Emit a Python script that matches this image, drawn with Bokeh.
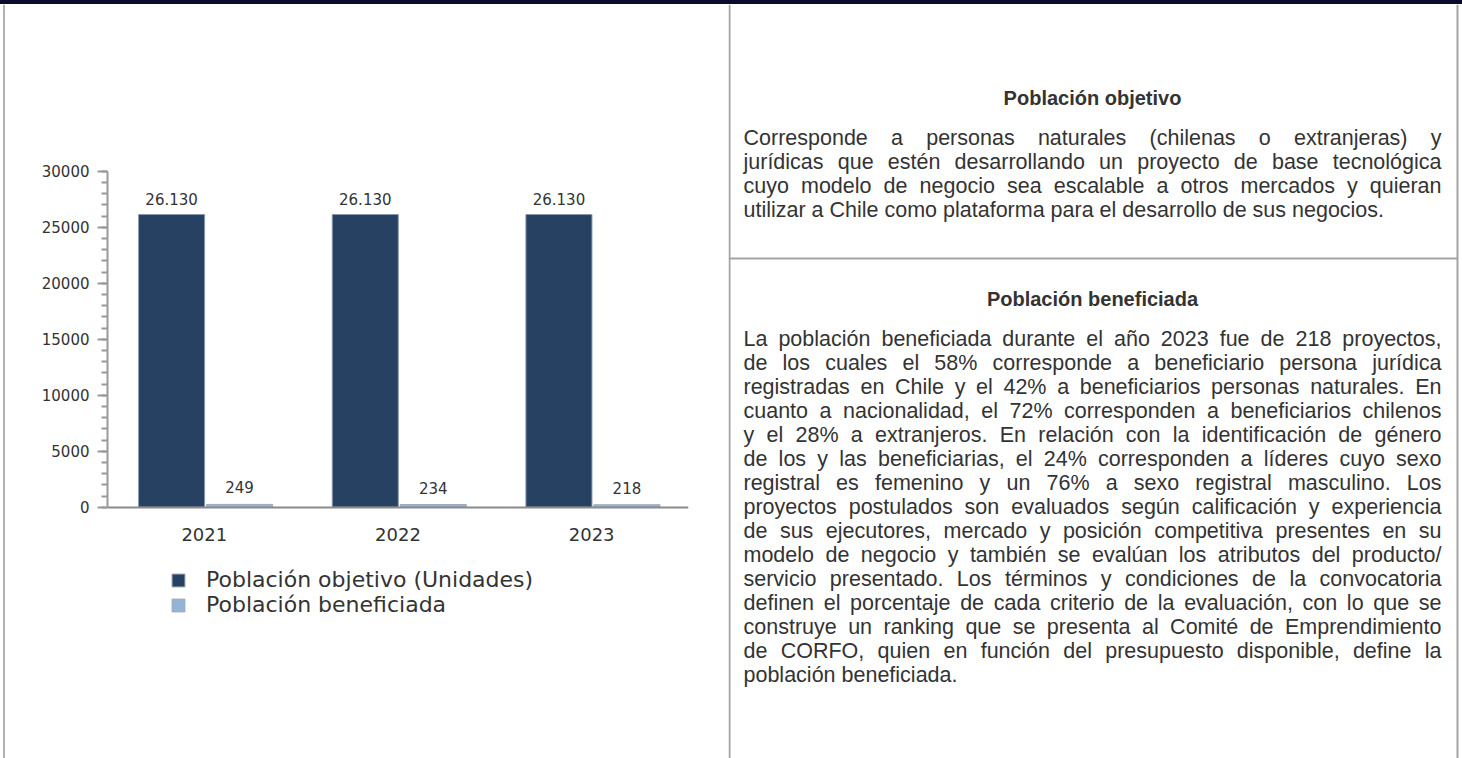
from bokeh.plotting import figure
from bokeh.models import ColumnDataSource, Range1d, FactorRange, SingleIntervalTicker, Plot, Div
from bokeh.transform import dodge
from bokeh.layouts import row, column
from bokeh.core.properties import value
from bokeh.embed import file_html
from bokeh.resources import INLINE

# ---------------- data ----------------
years = ["2021", "2022", "2023"]
poblacion_objetivo = [26130, 26130, 26130]
poblacion_beneficiada = [249, 234, 218]
serie_objetivo = "Población objetivo (Unidades)"
serie_beneficiada = "Población beneficiada"

titulo_1 = "Población objetivo"
parrafo_1 = [
    "Corresponde a personas naturales (chilenas o extranjeras) y",
    "jurídicas que estén desarrollando un proyecto de base tecnológica",
    "cuyo modelo de negocio sea escalable a otros mercados y quieran",
    "utilizar a Chile como plataforma para el desarrollo de sus negocios.",
]
titulo_2 = "Población beneficiada"
parrafo_2 = [
    "La población beneficiada durante el año 2023 fue de 218 proyectos,",
    "de los cuales el 58% corresponde a beneficiario persona jurídica",
    "registradas en Chile y el 42% a beneficiarios personas naturales. En",
    "cuanto a nacionalidad, el 72% corresponden a beneficiarios chilenos",
    "y el 28% a extranjeros. En relación con la identificación de género",
    "de los y las beneficiarias, el 24% corresponden a líderes cuyo sexo",
    "registral es femenino y un 76% a sexo registral masculino. Los",
    "proyectos postulados son evaluados según calificación y experiencia",
    "de sus ejecutores, mercado y posición competitiva presentes en su",
    "modelo de negocio y también se evalúan los atributos del producto/",
    "servicio presentado. Los términos y condiciones de la convocatoria",
    "definen el porcentaje de cada criterio de la evaluación, con lo que se",
    "construye un ranking que se presenta al Comité de Emprendimiento",
    "de CORFO, quien en función del presupuesto disponible, define la",
    "población beneficiada.",
]


def miles(v):
    return f"{v:,}".replace(",", ".")


NOALIGN = {"frame_align": False} if "frame_align" in Plot.properties() else {}

# ---------------- geometry (page pixels) ----------------
PAGE_W, PAGE_H = 1462, 758
BAND_H = 4
ROW_H = PAGE_H - BAND_H          # 754
LB_W = 5                          # page x 0..5
CHART_X1 = 728                    # chart figure page x 5..728
RIGHT_X0 = CHART_X1
FRAME_L, FRAME_R = 107, 688
FRAME_H = 700                     # frame from page y 4 to 704
Y0_PX, YTOP_PX, YTOP_VAL = 506.7, 170.7, 30000

DARK = "#274163"
LIGHT = "#95b3d7"
GRAY = "#a3a3a3"
TXT = "#333333"

# ---------------- top band ----------------
band = Div(text="", width=PAGE_W, height=BAND_H,
           styles={"background-color": "#0b0b2e", "margin": "0", "padding": "0"})

# ---------------- left border ----------------
lborder = figure(width=LB_W, height=ROW_H, x_axis_type=None, y_axis_type=None, title=None,
                 toolbar_location=None, min_border=0, outline_line_color=None,
                 x_range=Range1d(0, LB_W), y_range=Range1d(0, 1),
                 background_fill_color="white", border_fill_color="white",
                 output_backend="svg", **NOALIGN)
lborder.segment(x0=[3.5], y0=[0], x1=[3.5], y1=[1], line_color="#b0b0b0", line_width=2)

# ---------------- chart ----------------
src = ColumnDataSource(dict(
    years=years,
    obj=poblacion_objetivo,
    ben=poblacion_beneficiada,
    obj_lbl=[miles(v) for v in poblacion_objetivo],
    ben_lbl=[miles(v) for v in poblacion_beneficiada],
))

ppu = (Y0_PX - YTOP_PX) / YTOP_VAL
y_start = -(BAND_H + FRAME_H - Y0_PX) / ppu
y_end = YTOP_VAL + (YTOP_PX - BAND_H) / ppu

p = figure(frame_width=FRAME_R - FRAME_L, frame_height=FRAME_H,
           x_range=FactorRange(*years), y_range=Range1d(y_start, y_end),
           title=None, toolbar_location=None, output_backend="svg",
           min_border_left=FRAME_L - LB_W, min_border_right=CHART_X1 - FRAME_R,
           min_border_top=0, min_border_bottom=0,
           outline_line_color=None, **NOALIGN)
p.xgrid.visible = False
p.ygrid.visible = False

p.vbar(x=dodge("years", -0.169, range=p.x_range), top="obj", width=0.341, source=src,
       fill_color=DARK, line_color="#8797ad", line_width=1, legend_label=serie_objetivo)
p.vbar(x=dodge("years", 0.182, range=p.x_range), top="ben", width=0.341, source=src,
       fill_color=LIGHT, line_color="#9aa8ba", line_width=1, legend_label=serie_beneficiada)

p.text(x=dodge("years", -0.169, range=p.x_range), y="obj", text="obj_lbl", source=src,
       y_offset=-16, text_align="center", text_baseline="alphabetic",
       text_font=value("DejaVu Sans"), text_font_size="15px", text_color=TXT)
p.text(x=dodge("years", 0.182, range=p.x_range), y="ben", text="ben_lbl", source=src,
       y_offset=-17, text_align="center", text_baseline="alphabetic",
       text_font=value("DejaVu Sans"), text_font_size="15px", text_color=TXT)

yax = p.yaxis[0]
yax.bounds = (0, YTOP_VAL)
yax.ticker = SingleIntervalTicker(interval=5000, num_minor_ticks=5)
yax.axis_line_color = "#9a9a9a"
yax.axis_line_width = 2
yax.major_tick_line_color = "#9a9a9a"
yax.major_tick_line_width = 2
yax.major_tick_out = 10
yax.major_tick_in = 0
yax.minor_tick_line_color = "#9a9a9a"
yax.minor_tick_line_width = 2
yax.minor_tick_out = 6
yax.minor_tick_in = 0
yax.major_label_text_font = "DejaVu Sans"
yax.major_label_text_font_size = "15px"
yax.major_label_text_color = TXT
yax.major_label_standoff = 8

xax = p.xaxis[0]
xax.fixed_location = 0
xax.axis_line_color = "#8a8a8a"
xax.axis_line_width = 2
xax.major_tick_line_color = None
xax.major_tick_out = 0
xax.major_tick_in = 0
xax.minor_tick_line_color = None
xax.major_label_text_font = "DejaVu Sans"
xax.major_label_text_font_size = "18px"
xax.major_label_text_color = TXT
xax.major_label_standoff = 21

lg = p.legend[0]
lg.location = (170 - FRAME_L, (BAND_H + FRAME_H) - 617)
lg.orientation = "vertical"
lg.border_line_color = None
lg.background_fill_alpha = 0
lg.glyph_width = 16
lg.glyph_height = 16
lg.label_standoff = 20
lg.label_height = 20
lg.label_text_font = "DejaVu Sans"
lg.label_text_font_size = "22px"
lg.label_text_color = TXT
lg.spacing = 0
lg.padding = 0
lg.margin = 0

# ---------------- right text panel ----------------
r = figure(width=PAGE_W - RIGHT_X0, height=ROW_H, x_axis_type=None, y_axis_type=None, title=None,
           x_range=Range1d(RIGHT_X0, PAGE_W), y_range=Range1d(PAGE_H, BAND_H),
           toolbar_location=None, min_border=0, outline_line_color=None,
           output_backend="svg", **NOALIGN)
r.xgrid.visible = False
r.ygrid.visible = False

# cell borders
r.segment(x0=[729, 729, 1457], y0=[BAND_H, 258, BAND_H], x1=[729, 1457, 1457], y1=[PAGE_H, 258, PAGE_H],
          line_color=GRAY, line_width=2)

# Arial / Liberation Sans advance widths (1/1000 em)
AW = {' ': 278, '%': 889, '(': 333, ')': 333, ',': 278, '.': 278, '/': 278,
      'A': 667, 'B': 667, 'C': 722, 'D': 722, 'E': 667, 'F': 611, 'G': 778, 'H': 722, 'I': 278,
      'J': 500, 'K': 667, 'L': 556, 'M': 833, 'N': 722, 'O': 778, 'P': 667, 'Q': 778, 'R': 722,
      'S': 667, 'T': 611, 'U': 722, 'V': 667, 'W': 944, 'X': 667, 'Y': 667, 'Z': 611,
      'a': 556, 'b': 556, 'c': 500, 'd': 556, 'e': 556, 'f': 278, 'g': 556, 'h': 556, 'i': 222,
      'j': 222, 'k': 500, 'l': 222, 'm': 833, 'n': 556, 'o': 556, 'p': 556, 'q': 556, 'r': 333,
      's': 500, 't': 278, 'u': 556, 'v': 500, 'w': 722, 'x': 500, 'y': 500, 'z': 500,
      'á': 556, 'é': 556, 'í': 278, 'ó': 556, 'ú': 556, 'ñ': 556}
for d in "0123456789":
    AW[d] = 556

FS = 21.5
FS_TITLE = 20
LH = 24
XL, XR = 743, 1441
XC = (XL + XR) / 2


def tw(s):
    return sum(AW.get(c, 556) for c in s) / 1000.0 * FS


left_x, left_y, left_t = [], [], []
right_x, right_y, right_t = [], [], []


def paragraph(lines, y0):
    for i, line in enumerate(lines):
        y = y0 + i * LH
        if i == len(lines) - 1:
            left_x.append(XL); left_y.append(y); left_t.append(line)
            continue
        words = line.split(" ")
        widths = [tw(w) for w in words]
        gap = (XR - XL - sum(widths)) / (len(words) - 1)
        x = XL
        for w, wd in zip(words[:-1], widths[:-1]):
            left_x.append(x); left_y.append(y); left_t.append(w)
            x += wd + gap
        right_x.append(XR); right_y.append(y); right_t.append(words[-1])


paragraph(parrafo_1, 137)
paragraph(parrafo_2, 338)

common = dict(text_font=value("Liberation Sans"), text_color=TXT, text_baseline="middle")
r.text(x=left_x, y=left_y, text=left_t, text_align="left", text_font_size=f"{FS}px", **common)
r.text(x=right_x, y=right_y, text=right_t, text_align="right", text_font_size=f"{FS}px", **common)
r.text(x=[XC, XC], y=[97, 298], text=[titulo_1, titulo_2], text_align="center",
       text_font_style="bold", text_font_size=f"{FS_TITLE}px", **common)

layout = column(band, row(lborder, p, r))
open("out.html", "w").write(file_html(layout, INLINE))
